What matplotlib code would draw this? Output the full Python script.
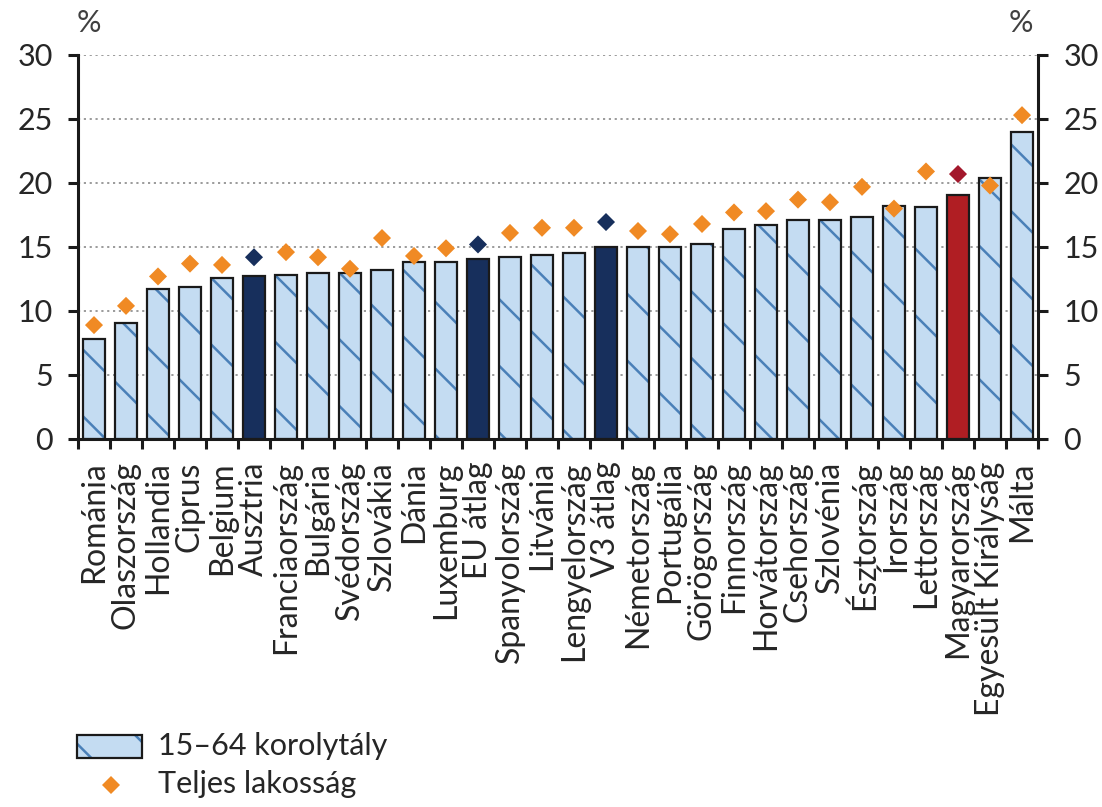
import matplotlib

matplotlib.use("Agg")
import matplotlib.pyplot as plt
from matplotlib.lines import Line2D
from matplotlib.patches import Rectangle


countries = [
    "Románia", "Olaszország", "Hollandia", "Ciprus", "Belgium", "Ausztria",
    "Franciaország", "Bulgária", "Svédország", "Szlovákia", "Dánia",
    "Luxemburg", "EU átlag", "Spanyolország", "Litvánia", "Lengyelország",
    "V3 átlag", "Németország", "Portugália", "Görögország", "Finnország",
    "Horvátország", "Csehország", "Szlovénia", "Észtország", "Írország",
    "Lettország", "Magyarország", "Egyesült Királyság", "Málta",
]
age_15_64 = [
    7.8, 9.1, 11.7, 11.9, 12.6, 12.7, 12.8, 13.0, 13.0, 13.2, 13.8, 13.8,
    14.1, 14.2, 14.4, 14.55, 15.0, 15.0, 15.0, 15.2, 16.4, 16.7, 17.1, 17.1,
    17.35, 18.2, 18.15, 19.1, 20.4, 24.0,
]
total_pop = [
    8.9, 10.4, 12.7, 13.7, 13.6, 14.2, 14.6, 14.2, 13.3, 15.7, 14.3, 14.9,
    15.2, 16.1, 16.5, 16.5, 16.95, 16.25, 16.0, 16.8, 17.7, 17.8, 18.7, 18.5,
    19.7, 18.0, 20.9, 20.7, 19.8, 25.3,
]
navy_items = ["Ausztria", "EU átlag", "V3 átlag"]
red_items = ["Magyarország"]
legend_labels = ["15–64 korolytály", "Teljes lakosság"]
y_ticks = [0, 5, 10, 15, 20, 25, 30]

LIGHT = "#c4dcf2"
HATCH_BLUE = "#4a80b8"
NAVY = "#172f5c"
RED = "#b01e23"
ORANGE = "#f08a24"
DARK_RED = "#a3182c"
EDGE = "#1a1a1a"
TEXT = "#262626"

DPI = 200
W, H = 1102, 807

plt.rcParams["font.family"] = ["Lato", "DejaVu Sans"]
plt.rcParams["hatch.linewidth"] = 0.9

fig = plt.figure(figsize=(W / DPI, H / DPI), dpi=DPI)
ax = fig.add_axes([78 / W, 1 - 439 / H, 960 / W, 384 / H])

bar_w = 0.675
plain = [i for i, c in enumerate(countries) if c not in navy_items + red_items]
for idx_list, color in ((plain, None),
                        ([countries.index(c) for c in navy_items], NAVY),
                        ([countries.index(c) for c in red_items], RED)):
    vals = [age_15_64[i] for i in idx_list]
    if color is None:
        ax.bar(idx_list, vals, width=bar_w, color=LIGHT, edgecolor=HATCH_BLUE,
               hatch="\\", linewidth=0, zorder=2)
        ax.bar(idx_list, vals, width=bar_w, fill=False, edgecolor=EDGE,
               linewidth=0.8, zorder=3)
    else:
        ax.bar(idx_list, vals, width=bar_w, color=color, edgecolor=EDGE,
               linewidth=0.8, zorder=3)

marker_colors = []
for c in countries:
    if c in navy_items:
        marker_colors.append(NAVY)
    elif c in red_items:
        marker_colors.append(DARK_RED)
    else:
        marker_colors.append(ORANGE)
ax.scatter(range(len(countries)), total_pop, marker="D", s=4.6 ** 2,
           c=marker_colors, linewidths=0, zorder=4)

ax.set_xlim(-0.5, len(countries) - 0.5)
ax.set_ylim(0, 30)
ax.set_yticks(y_ticks)
ax.yaxis.grid(True, linestyle=(0, (1.3, 2.2)), color="#8a8a8a", linewidth=0.6)
ax.set_axisbelow(True)

ax.set_xticks(range(len(countries)), labels=countries, rotation=90)
ax.set_xticks([i - 0.5 for i in range(len(countries) + 1)], minor=True)
ax.tick_params(axis="x", which="major", length=0, pad=8, labelsize=11.5,
               labelcolor=TEXT)
ax.tick_params(axis="x", which="minor", length=3.6, width=1.1,
               direction="out", color=EDGE)
ax.tick_params(axis="y", length=3.6, width=1.1, direction="out", color=EDGE,
               left=True, right=True, labelleft=True, labelright=True,
               labelsize=11, pad=5.5, labelcolor=TEXT)

ax.spines["top"].set_visible(False)
for side in ("left", "right", "bottom"):
    ax.spines[side].set_linewidth(1.1)
    ax.spines[side].set_color(EDGE)

fig.text(89 / W, 1 - 23 / H, "%", ha="center", va="center", fontsize=11,
         color="#404040")
fig.text(1021 / W, 1 - 23 / H, "%", ha="center", va="center", fontsize=11,
         color="#404040")

# legend drawn by hand in figure pixels so the hatch shows like on the bars
box = (77 / W, 1 - 758 / H, 65 / W, 23 / H)
fig.add_artist(Rectangle(box[:2], box[2], box[3], transform=fig.transFigure,
                         facecolor=LIGHT, edgecolor=HATCH_BLUE, hatch="\\",
                         linewidth=0))
fig.add_artist(Rectangle(box[:2], box[2], box[3], transform=fig.transFigure,
                         fill=False, edgecolor=EDGE, linewidth=0.8))
fig.add_artist(Line2D([111 / W], [1 - 785 / H], transform=fig.transFigure,
                      linestyle="none", marker="D", markersize=4.6,
                      markerfacecolor=ORANGE, markeredgewidth=0))
fig.text(158 / W, 1 - 746 / H, legend_labels[0], ha="left", va="center",
         fontsize=11, color=TEXT)
fig.text(158 / W, 1 - 784 / H, legend_labels[1], ha="left", va="center",
         fontsize=11, color=TEXT)

fig.savefig("out.png", dpi=DPI, facecolor="white")
plt.close(fig)
